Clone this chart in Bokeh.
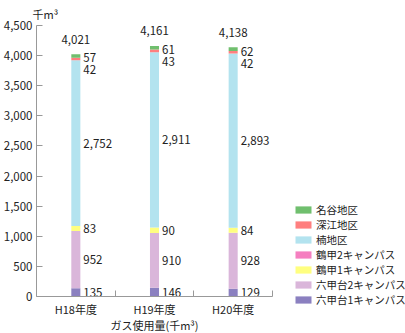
from bokeh.plotting import figure
from bokeh.layouts import row
from bokeh.models import Range1d, FixedTicker, NumeralTickFormatter, Legend, LegendItem, ColumnDataSource, Title
from bokeh.core.properties import value
from bokeh.embed import file_html
from bokeh.resources import INLINE

years = ["H18年度", "H19年度", "H20年度"]
series = ["六甲台1キャンパス", "六甲台2キャンパス", "鶴甲1キャンパス", "鶴甲2キャンパス",
          "楠地区", "深江地区", "名谷地区"]
rokkodai1 = [135, 146, 129]
rokkodai2 = [952, 910, 928]
tsurukabuto1 = [83, 90, 84]
tsurukabuto2 = [0, 0, 0]
kusunoki = [2752, 2911, 2893]
fukae = [42, 43, 42]
myodani = [57, 61, 62]
colors = ["#8b80c0", "#dab6da", "#ffff80", "#f57fc0", "#b3e3ef", "#ff7f7f", "#70bf6e"]
yticks = [0, 500, 1000, 1500, 2000, 2500, 3000, 3500, 4000, 4500]

FONT = "Noto Sans CJK JP"
TXT = "#222222"
AX = "#999999"
FS = "11px"

data = [rokkodai1, rokkodai2, tsurukabuto1, tsurukabuto2, kusunoki, fukae, myodani]
xs = [i + 0.5 for i in range(len(years))]
bw = 0.115

p = figure(width=282, height=333, output_backend="svg", toolbar_location=None,
           x_range=Range1d(0, len(years)), y_range=Range1d(0, yticks[-1]),
           min_border_left=36, min_border_right=10, min_border_top=23, min_border_bottom=37,
           title="千m³")
p.outline_line_color = None
p.xgrid.visible = False
p.ygrid.visible = False
p.background_fill_color = None
p.border_fill_color = None
p.title.align = "left"
p.title.offset = -4
p.title.standoff = 7
p.title.text_font = FONT
p.title.text_font_size = FS
p.title.text_font_style = "normal"
p.title.text_color = TXT

renderers = []
bottoms = [0] * len(years)
for name, vals, col in zip(series, data, colors):
    tops = [b + v for b, v in zip(bottoms, vals)]
    r = p.vbar(x=xs, bottom=bottoms, top=tops, width=bw, fill_color=col, line_color=None)
    renderers.append((name, col, list(bottoms), tops, vals))
    bottoms = tops

# value labels
lx, ly, lt, lyo = [], [], [], []
for name, col, bots, tops, vals in renderers:
    for j in range(len(years)):
        if vals[j] == 0:
            continue
        if name == "名谷地区":
            y, yo = bots[j], 0
        elif name == "深江地区":
            y, yo = tops[j], 12
        else:
            y, yo = (bots[j] + tops[j]) / 2, 0
        lx.append(xs[j] + bw / 2)
        ly.append(y)
        lt.append(f"{vals[j]:,}")
        lyo.append(yo)
src = ColumnDataSource(dict(x=lx, y=ly, text=lt, yo=lyo))
p.text(x="x", y="y", text="text", y_offset="yo", x_offset=3, source=src,
       text_font=value(FONT), text_font_size="11.5px", text_color=TXT,
       text_align="left", text_baseline="middle")

totals = bottoms
tsrc = ColumnDataSource(dict(x=xs, y=totals, text=[f"{t:,}" for t in totals]))
p.text(x="x", y="y", text="text", y_offset=-15, source=tsrc,
       text_font=value(FONT), text_font_size="11.5px", text_color=TXT,
       text_align="center", text_baseline="middle")

# axes
p.yaxis.ticker = FixedTicker(ticks=yticks, minor_ticks=[])
p.yaxis.formatter = NumeralTickFormatter(format="0,0")
p.yaxis.major_tick_in = 6
p.yaxis.major_tick_out = 0
p.yaxis.major_label_standoff = 4
p.yaxis.axis_line_color = AX
p.yaxis.major_tick_line_color = AX
p.yaxis.major_label_text_font = FONT
p.yaxis.major_label_text_font_size = "11.5px"
p.yaxis.major_label_text_color = TXT

p.xaxis.ticker = FixedTicker(ticks=xs, minor_ticks=[i + 1 for i in range(len(years))])
p.xaxis.major_label_overrides = {x: y for x, y in zip(xs, years)}
p.xaxis.major_tick_in = 0
p.xaxis.major_tick_out = 0
p.xaxis.minor_tick_in = 6
p.xaxis.minor_tick_out = 0
p.xaxis.minor_tick_line_color = AX
p.xaxis.axis_line_color = AX
p.xaxis.major_label_standoff = 4
p.xaxis.major_label_text_font = FONT
p.xaxis.major_label_text_font_size = FS
p.xaxis.major_label_text_color = TXT

xtitle = Title(text="ガス使用量(千m³)", align="center", standoff=-6, vertical_align="top",
               text_font=FONT, text_font_size=FS, text_font_style="normal", text_color=TXT)
p.add_layout(xtitle, "below")

# legend panel
q = figure(width=123, height=333, output_backend="svg", toolbar_location=None,
           min_border=0, x_axis_type=None, y_axis_type=None,
           x_range=Range1d(0, 1), y_range=Range1d(0, 1))
q.frame_align = False
q.outline_line_color = None
q.grid.visible = False
q.background_fill_color = None
q.border_fill_color = None
items = []
for name, col, *_ in reversed(renderers):
    r = q.vbar(x=[float("nan")], top=[float("nan")], width=0.5, fill_color=col, line_color=None)
    items.append(LegendItem(label=name, renderers=[r]))
legend = Legend(items=items, location=(11, 26), glyph_width=20, glyph_height=9,
                label_standoff=3, spacing=-6, padding=0, margin=0, label_height=10,
                label_text_font=FONT, label_text_font_size="10.5px", label_text_color=TXT,
                background_fill_alpha=0, border_line_color=None)
q.add_layout(legend, "center")

open("out.html", "w").write(file_html(row(p, q), INLINE))
